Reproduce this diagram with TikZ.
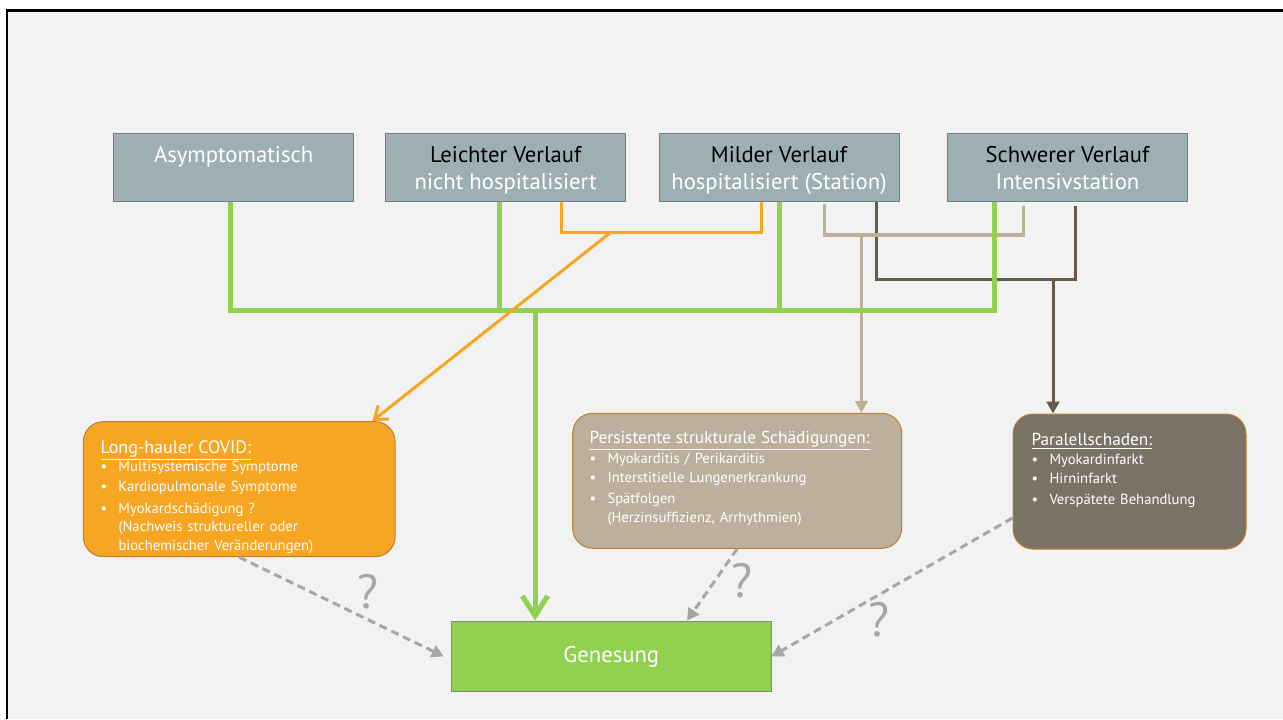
\documentclass[tikz,border=0pt]{standalone}
\usepackage{fontspec}
\setmainfont{PT Sans}
\usetikzlibrary{arrows.meta}

\definecolor{pagefill}{HTML}{F2F2F2}
\definecolor{topfill}{HTML}{9EAFB4}
\definecolor{topedge}{HTML}{6F8087}
\definecolor{heilgreen}{HTML}{92D050}
\definecolor{heiledge}{HTML}{7F8C6F}
\definecolor{longorange}{HTML}{F6A623}
\definecolor{strukbeige}{HTML}{BCB09C}
\definecolor{parbrown}{HTML}{7A7265}
\definecolor{parline}{HTML}{665B4A}
\definecolor{boxedge}{HTML}{BF7F2F}
\definecolor{qgray}{HTML}{A6A6A6}

\tikzset{every picture/.style={line width=0.75pt}}

\newcommand{\itm}{\makebox[13.5pt][l]{\textbullet}}
\newcommand{\ind}{\hspace*{13.5pt}}
\newcommand{\topstrut}{\rule{0pt}{19pt}}

\begin{document}
\begin{tikzpicture}[x=0.75pt,y=0.75pt,yscale=-1,xscale=1,
	topbox/.style={draw=topedge,fill=topfill,minimum width=180pt,minimum height=51pt,inner sep=0pt,align=center,text=white,font=\fontsize{17}{20}\selectfont},
	roundbox/.style={draw=boxedge,rounded corners=15pt,minimum height=101.25pt,inner sep=0pt},
	boxtext/.style={anchor=north west,inner sep=0pt,text=white,align=left,font=\fontsize{11}{14}\selectfont},
	greenline/.style={draw=heilgreen,line width=3.75pt},
	orangeline/.style={draw=longorange,line width=2.25pt},
	beigeline/.style={draw=strukbeige,line width=2.4pt},
	brownline/.style={draw=parline,line width=2.25pt},
	qarrow/.style={draw=qgray,line width=2.25pt,dash pattern=on 6pt off 3.75pt,-{Triangle[length=9pt,width=9.5pt]}},
	qmark/.style={text=qgray,inner sep=0pt,font=\fontsize{36}{40}\selectfont}]
	\useasboundingbox (0,0) rectangle (1283,719);
	
	%Shape: Rectangle (page)
	\fill[white] (0,0) rectangle (1283,719);
	\fill[pagefill] (7,10) rectangle (1283,719);
	\draw[line width=2pt] (7,719) -- (7,10.5) -- (1283,10.5);
	
	%Shape: Rectangle (stages)
	\node[topbox] (asym) at (233.6,167) {\topstrut Asymptomatisch\\\strut};
	\node[topbox] (leicht) at (505.7,167) {\topstrut\textcolor{black}{Leichter Verlauf}\\\strut nicht hospitalisiert};
	\node[topbox] (mild) at (779,167) {\topstrut\textcolor{black}{Milder Verlauf}\\\strut hospitalisiert (Station)};
	\node[topbox] (schwer) at (1067.5,167) {\topstrut\textcolor{black}{Schwerer Verlauf}\\\strut Intensivstation};
	
	%Shape: Rounded Rect (outcomes)
	\node[roundbox,fill=longorange,minimum width=233.8pt] (longh) at (239.2,489.2) {};
	\node[roundbox,fill=strukbeige,minimum width=246.75pt] (persist) at (737.2,480.8) {};
	\node[roundbox,fill=parbrown,minimum width=174.75pt] (parallel) at (1129.5,481.5) {};
	\node[draw=heiledge,fill=heilgreen,minimum width=239.6pt,minimum height=53pt,inner sep=0pt,text=white,font=\fontsize{17}{20}\selectfont] (genesung) at (611.3,656.4) {Genesung};
	
	%Text in outcomes
	\node[boxtext,text width=225pt] (longhtxt) at (100,440) {{\fontsize{13.5}{15}\selectfont\underline{Long-hauler COVID:}\par}
		\itm Multisystemische Symptome\par\vspace{0.5pt}
		\itm Kardiopulmonale Symptome\par\vspace{2.5pt}
		\itm Myokardschädigung ?\\\ind (Nachweis struktureller oder\\\ind biochemischer Veränderungen)};
	\node[boxtext,text width=240pt] (persisttxt) at (589,430.7) {{\fontsize{13}{15}\selectfont\underline{Persistente strukturale Schädigungen:}\par}\vspace{1pt}
		\itm Myokarditis / Perikarditis\par\vspace{0.5pt}
		\itm Interstitielle Lungenerkrankung\par\vspace{1.5pt}
		\itm Spätfolgen\\\ind (Herzinsuffizienz, Arrhythmien)};
	\node[boxtext,text width=170pt] (paralleltxt) at (1031,433) {{\fontsize{13}{15}\selectfont\underline{Paralellschaden:}\par}
		\itm Myokardinfarkt\par\vspace{0.5pt}
		\itm Hirninfarkt\par\vspace{1.5pt}
		\itm Verspätete Behandlung};
	
	%Straight Lines (brown, beige)
	\coordinate (dL) at (876.6,279);
	\coordinate (dR) at (1075.4,279);
	\coordinate (dM) at (1053,279);
	\draw[brownline,shorten >=3pt] (mild.south -| dL) -- (dL) -- (dR) -- (schwer.south -| dR);
	\draw[brownline,-{Triangle[length=9pt,width=9.5pt]}] (dM) -- (parallel.north -| dM);
	\coordinate (bL) at (824.5,235);
	\coordinate (bR) at (1023.4,235);
	\coordinate (bM) at (861.4,235);
	\draw[beigeline,shorten <=1.5pt,shorten >=3pt] (mild.south -| bL) -- (bL) -- (bR) -- (schwer.south -| bR);
	\draw[beigeline,-{Triangle[length=9pt,width=9.5pt]}] (bM) -- (persist.north -| bM);
	
	%Straight Lines (green)
	\coordinate (gA) at (230,310);
	\coordinate (gB) at (499,310);
	\coordinate (gC) at (779.4,310);
	\coordinate (gD) at (994.6,310);
	\coordinate (gOut) at (535,310);
	\draw[greenline] (asym.south -| gA) -- (gA) -- (gD) -- (schwer.south -| gD);
	\draw[greenline] (leicht.south -| gB) -- (gB);
	\draw[greenline] (mild.south -| gC) -- (gC);
	\draw[greenline,-{Straight Barb[length=15pt,width=19pt]}] (gOut) -- (genesung.north -| gOut);
	
	%Straight Lines (orange)
	\coordinate (oL) at (561.8,232.3);
	\coordinate (oR) at (761,232.3);
	\coordinate (oM) at (610.7,232.3);
	\draw[orangeline] (leicht.south -| oL) -- (oL) -- (oR) -- (mild.south -| oR);
	\draw[orangeline,-{Straight Barb[length=9pt,width=13pt]}] (oM) -- ([xshift=-17.5pt]longh.north east);
	
	%Dashed Lines (uncertain recovery)
	\draw[qarrow] (longh.south) -- ([xshift=-5.5pt]genesung.west);
	\draw[qarrow] (persist.south) -- ([xshift=56.8pt]genesung.north);
	\draw[qarrow] (parallel.west |- 0,518) -- (genesung.east);
	\node[qmark] (q1) at (368,592) {?};
	\node[qmark] (q2) at (742,581) {?};
	\node[qmark] (q3) at (879,620) {?};
\end{tikzpicture}
\end{document}
